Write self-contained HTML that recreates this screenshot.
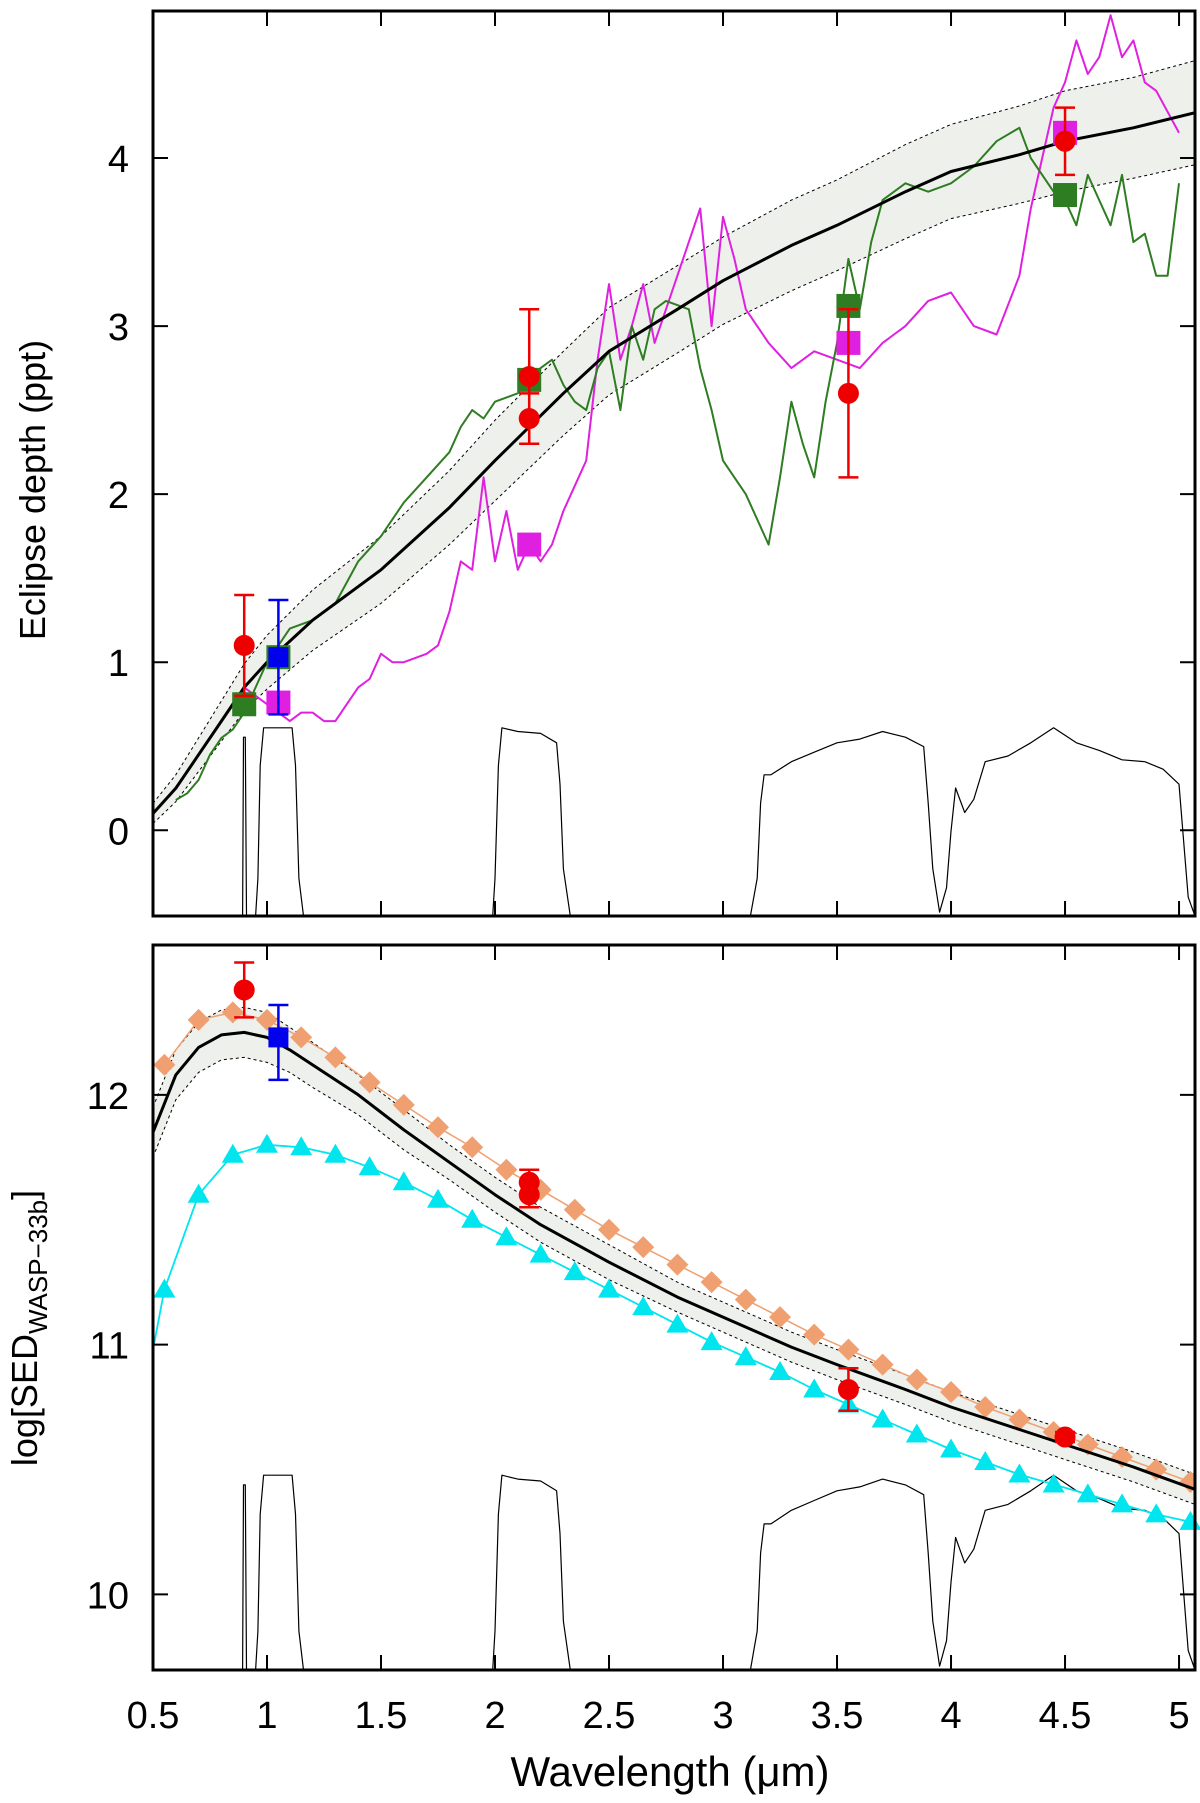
<!DOCTYPE html>
<html><head><meta charset="utf-8"><style>
html,body{margin:0;padding:0;background:#fff;}
svg{display:block;font-family:"Liberation Sans",sans-serif;}
</style></head><body>
<svg id="chart" width="1200" height="1803" viewBox="0 0 1200 1803" xmlns="http://www.w3.org/2000/svg">
<g id="top"></g>
<g id="bot"></g>
<text x="0" y="0" font-size="36" text-anchor="middle" transform="translate(45,490) rotate(-90)">Eclipse depth (ppt)</text>
<text x="0" y="0" font-size="36" text-anchor="middle" transform="translate(37,1328) rotate(-90)">log[SED<tspan font-size="26" dy="10">WASP−33b</tspan><tspan dy="-10">]</tspan></text>
<text x="670" y="1786" font-size="42" text-anchor="middle">Wavelength (μm)</text>
</svg>
<script>
// ---- data ----
const xTicks = [0.5,1,1.5,2,2.5,3,3.5,4,4.5,5];
const xTickLabels = ["0.5","1","1.5","2","2.5","3","3.5","4","4.5","5"];
const topYTicks = [0,1,2,3,4];
const botYTicks = [10,11,12];
const topModelX = [0.5,0.6,0.7,0.8,0.9,1.0,1.2,1.5,1.8,2.0,2.3,2.5,2.8,3.0,3.3,3.5,3.8,4.0,4.3,4.5,4.8,5.07];
const topModelY = [0.1,0.25,0.45,0.65,0.85,1.0,1.25,1.55,1.92,2.2,2.6,2.85,3.1,3.27,3.48,3.6,3.8,3.92,4.02,4.1,4.18,4.27];
const topBandW = [0.06,0.08,0.1,0.12,0.14,0.16,0.18,0.2,0.22,0.24,0.25,0.26,0.26,0.26,0.27,0.27,0.28,0.28,0.29,0.3,0.3,0.31];
const greenX = [0.6,0.65,0.7,0.75,0.8,0.85,0.9,0.95,1.0,1.05,1.1,1.2,1.3,1.4,1.5,1.6,1.7,1.8,1.85,1.9,1.95,2.0,2.1,2.2,2.25,2.3,2.35,2.4,2.45,2.5,2.55,2.6,2.65,2.7,2.75,2.85,2.9,2.95,3.0,3.05,3.1,3.15,3.2,3.25,3.3,3.35,3.4,3.45,3.5,3.55,3.6,3.65,3.7,3.8,3.9,4.0,4.1,4.2,4.3,4.35,4.4,4.45,4.5,4.55,4.6,4.65,4.7,4.75,4.8,4.85,4.9,4.95,5.0];
const greenY = [0.18,0.22,0.3,0.45,0.55,0.6,0.7,0.85,1.0,1.1,1.2,1.25,1.35,1.6,1.75,1.95,2.1,2.25,2.4,2.5,2.45,2.55,2.6,2.75,2.8,2.65,2.55,2.5,2.75,2.85,2.5,3.0,2.8,3.1,3.15,3.1,2.75,2.5,2.2,2.1,2.0,1.85,1.7,2.1,2.55,2.3,2.1,2.55,2.9,3.4,3.1,3.5,3.75,3.85,3.8,3.85,3.95,4.1,4.18,4.0,3.9,3.8,3.75,3.6,3.9,3.75,3.6,3.9,3.5,3.55,3.3,3.3,3.85];
const magX = [0.57,0.65,0.7,0.75,0.8,0.85,0.9,0.95,1.0,1.05,1.1,1.15,1.2,1.25,1.3,1.35,1.4,1.45,1.5,1.55,1.6,1.7,1.75,1.8,1.85,1.9,1.95,2.0,2.05,2.1,2.15,2.2,2.25,2.3,2.35,2.4,2.45,2.5,2.55,2.6,2.65,2.7,2.75,2.8,2.85,2.9,2.95,3.0,3.05,3.1,3.2,3.3,3.4,3.5,3.6,3.7,3.8,3.9,4.0,4.1,4.2,4.3,4.35,4.4,4.45,4.5,4.55,4.6,4.65,4.7,4.75,4.8,4.85,4.9,5.0];
const magY = [0.2,0.35,0.45,0.55,0.65,0.75,0.85,0.8,0.75,0.7,0.65,0.7,0.7,0.65,0.65,0.75,0.85,0.9,1.05,1.0,1.0,1.05,1.1,1.3,1.6,1.55,2.1,1.6,1.9,1.55,1.7,1.6,1.7,1.9,2.05,2.2,2.8,3.25,2.8,3.0,3.25,2.9,3.1,3.3,3.5,3.7,3.0,3.65,3.4,3.1,2.9,2.75,2.85,2.8,2.75,2.9,3.0,3.15,3.2,3.0,2.95,3.3,3.7,4.0,4.3,4.45,4.7,4.5,4.6,4.85,4.6,4.7,4.45,4.4,4.15];
const topRedX = [0.9,2.15,2.15,3.55,4.5];
const topRedY = [1.1,2.7,2.45,2.6,4.1];
const topRedErr = [0.3,0.4,0.15,0.5,0.2];
const topBlueX = [1.05]; const topBlueY = [1.03]; const topBlueErr = [0.34];
const greenSqX = [0.9,1.05,2.15,3.55,4.5];
const greenSqY = [0.75,1.03,2.68,3.12,3.78];
const magSqX = [1.05,2.15,3.55,4.5];
const magSqY = [0.76,1.7,2.9,4.15];
const filtX = [0.5,0.893,0.897,0.905,0.91,0.95,0.96,0.97,0.985,1.11,1.125,1.14,1.16,1.99,2.0,2.015,2.03,2.1,2.2,2.27,2.285,2.3,2.33,3.12,3.15,3.165,3.18,3.21,3.3,3.4,3.5,3.6,3.7,3.8,3.88,3.9,3.92,3.95,3.98,4.0,4.02,4.06,4.1,4.15,4.25,4.35,4.45,4.55,4.65,4.75,4.85,4.93,5.0,5.02,5.04,5.07];
const filtT = [0,0,0.95,0.95,0,0,0.2,0.8,1.0,1.0,0.8,0.2,0,0,0.2,0.8,1.0,0.98,0.97,0.92,0.7,0.25,0,0,0.2,0.6,0.75,0.75,0.82,0.87,0.92,0.94,0.98,0.95,0.9,0.6,0.25,0.02,0.15,0.45,0.68,0.55,0.62,0.82,0.85,0.92,1.0,0.92,0.88,0.83,0.82,0.78,0.7,0.4,0.1,0];
const botModelX = [0.5,0.6,0.7,0.8,0.9,1.0,1.1,1.2,1.4,1.6,1.8,2.0,2.2,2.5,2.8,3.0,3.3,3.5,3.8,4.0,4.3,4.5,4.8,5.07];
const botModelY = [11.85,12.08,12.19,12.24,12.25,12.23,12.18,12.12,12.0,11.86,11.73,11.6,11.48,11.33,11.19,11.11,10.99,10.92,10.82,10.75,10.66,10.6,10.51,10.42];
const botBandW = [0.1,0.1,0.1,0.1,0.1,0.1,0.09,0.09,0.08,0.08,0.07,0.07,0.07,0.07,0.06,0.06,0.06,0.06,0.06,0.06,0.06,0.06,0.06,0.06];
const orangeX = [0.55,0.7,0.85,1.0,1.15,1.3,1.45,1.6,1.75,1.9,2.05,2.2,2.35,2.5,2.65,2.8,2.95,3.1,3.25,3.4,3.55,3.7,3.85,4.0,4.15,4.3,4.45,4.6,4.75,4.9,5.05];
const orangeY = [12.12,12.3,12.33,12.3,12.23,12.15,12.05,11.96,11.87,11.79,11.7,11.62,11.54,11.46,11.39,11.32,11.25,11.18,11.11,11.04,10.98,10.92,10.86,10.81,10.75,10.7,10.65,10.6,10.55,10.5,10.45];
const cyanX = [0.5,0.55,0.7,0.85,1.0,1.15,1.3,1.45,1.6,1.75,1.9,2.05,2.2,2.35,2.5,2.65,2.8,2.95,3.1,3.25,3.4,3.55,3.7,3.85,4.0,4.15,4.3,4.45,4.6,4.75,4.9,5.05];
const cyanY = [10.98,11.22,11.6,11.76,11.8,11.79,11.76,11.71,11.65,11.58,11.5,11.43,11.36,11.29,11.22,11.15,11.08,11.01,10.95,10.89,10.82,10.76,10.7,10.64,10.58,10.53,10.48,10.44,10.4,10.36,10.32,10.29];
const botRedX = [0.9,2.15,2.15,3.55,4.5];
const botRedY = [12.42,11.65,11.6,10.82,10.63];
const botRedErr = [0.11,0.05,0.05,0.085,0.02];
const botBlueX = [1.05]; const botBlueY = [12.23]; const botBlueErrUp = [0.13]; const botBlueErrDn = [0.17];

// ---- layout ----
const NS = "http://www.w3.org/2000/svg";
const L = 153, R = 1195;
const xMin = 0.5, xMax = 5.07;
function X(w){ return L + (w - xMin) / (xMax - xMin) * (R - L); }
const topP = {t:11, b:916, yMin:-0.51, yMax:4.875};
const botP = {t:945, b:1670, yMin:9.697, yMax:12.6};
function Yf(p){ return v => p.b - (v - p.yMin) / (p.yMax - p.yMin) * (p.b - p.t); }
function mk(parent, tag, attrs){ const e = document.createElementNS(NS, tag); for (const k in attrs) e.setAttribute(k, attrs[k]); parent.appendChild(e); return e; }
function pathD(xs, ys, Y){ return xs.map((x,i)=>(i?"L":"M")+X(x).toFixed(1)+","+Y(ys[i]).toFixed(1)).join(""); }

function panel(g, p, clipId){
  const Y = Yf(p);
  const defs = mk(g, "defs", {});
  const cp = mk(defs, "clipPath", {id: clipId});
  mk(cp, "rect", {x:L, y:p.t, width:R-L, height:p.b-p.t});
  return Y;
}
function frame(g, p, Y, yTicks, showXLabels){
  xTicks.forEach((t,i)=>{
    const tk = mk(g, "path", {d:`M${X(t)},${p.b}V${p.b-15}M${X(t)},${p.t}V${p.t+15}`, stroke:"#000", "stroke-width":2});
    
    
    if (showXLabels){
      const tx = mk(g, "text", {x:X(t), y:1728, "font-size":38, "text-anchor":"middle"});
      tx.textContent = xTickLabels[i];
      
      
    }
  });
  yTicks.forEach(t=>{
    const tk = mk(g, "path", {d:`M${L},${Y(t)}H${L+15}M${R},${Y(t)}H${R-15}`, stroke:"#000", "stroke-width":2});
    
    
    const tx = mk(g, "text", {x:L-24, y:Y(t)+14, "font-size":38, "text-anchor":"end"});
    tx.textContent = String(t);
    
    
  });
  const fr = mk(g, "rect", {x:L, y:p.t, width:R-L, height:p.b-p.t, fill:"none", stroke:"#000", "stroke-width":3});
  
  
}
function band(g, xs, ys, ws, Y, clip){
  const up = xs.map((x,i)=>X(x).toFixed(1)+","+Y(ys[i]+ws[i]).toFixed(1));
  const dn = xs.map((x,i)=>X(x).toFixed(1)+","+Y(ys[i]-ws[i]).toFixed(1)).reverse();
  const b = mk(g, "path", {d:"M"+up.join("L")+"L"+dn.join("L")+"Z", fill:"#eef0ec", "clip-path":`url(#${clip})`});
  
  
  const u = mk(g, "path", {d:pathD(xs, ys.map((v,i)=>v+ws[i]), Y), fill:"none", stroke:"#000", "stroke-width":1, "stroke-dasharray":"3,3", "clip-path":`url(#${clip})`});
  
  
  const d = mk(g, "path", {d:pathD(xs, ys.map((v,i)=>v-ws[i]), Y), fill:"none", stroke:"#000", "stroke-width":1, "stroke-dasharray":"3,3", "clip-path":`url(#${clip})`});
  
  
}
function filters(g, p, Y, clip, scale){
  const base = p.yMin;
  const ys = filtT.map(t => base + t*scale);
  const f = mk(g, "path", {d:pathD(filtX, ys, Y), fill:"none", stroke:"#000", "stroke-width":1.2, "stroke-linejoin":"round", "clip-path":`url(#${clip})`});
  
  
}
function line(g, xs, ys, Y, color, w, name, clip){
  const l = mk(g, "path", {d:pathD(xs, ys, Y), fill:"none", stroke:color, "stroke-width":w, "stroke-linejoin":"round", "clip-path":`url(#${clip})`});
  
  
}
function errbar(g, x, y, up, dn, Y, color){
  const cx = X(x);
  const e = mk(g, "path", {d:`M${cx},${Y(y+up)}V${Y(y-dn)}M${cx-10},${Y(y+up)}H${cx+10}M${cx-10},${Y(y-dn)}H${cx+10}`, stroke:color, "stroke-width":2.5, fill:"none"});
  
  
}
function circle(g, x, y, Y, color){
  const c = mk(g, "circle", {cx:X(x), cy:Y(y), r:10.5, fill:color});
  
  
}
function square(g, x, y, Y, color, name){
  const s = mk(g, "rect", {x:X(x)-12, y:Y(y)-12, width:24, height:24, fill:color});
  
  
}

// ---- top panel ----
const gt = document.getElementById("top");
const Yt = panel(gt, topP, "clipTop");
band(gt, topModelX, topModelY, topBandW, Yt, "clipTop");
filters(gt, topP, Yt, "clipTop", 1.12);
line(gt, magX, magY, Yt, "#e020e0", 2, "magenta-model-spectrum", "clipTop");
line(gt, greenX, greenY, Yt, "#2e7d22", 2, "green-model-spectrum", "clipTop");
line(gt, topModelX, topModelY, Yt, "#000", 3, "blackbody-model-line", "clipTop");
magSqX.forEach((x,i)=>square(gt, x, magSqY[i], Yt, "#e020e0", "magenta-square"));
greenSqX.forEach((x,i)=>square(gt, x, greenSqY[i], Yt, "#2e7d22", "green-square"));
topBlueX.forEach((x,i)=>{ errbar(gt, x, topBlueY[i], topBlueErr[i], topBlueErr[i], Yt, "#0000ee"); });
topRedX.forEach((x,i)=>{ errbar(gt, x, topRedY[i], topRedErr[i], topRedErr[i], Yt, "#ee0000"); circle(gt, x, topRedY[i], Yt, "#ee0000"); });
topBlueX.forEach((x,i)=>{ const s = mk(gt, "rect", {x:X(x)-10, y:Yt(topBlueY[i])-10, width:20, height:20, fill:"#0000ee"});
  
   });
frame(gt, topP, Yt, topYTicks, false);

// ---- bottom panel ----
const gb = document.getElementById("bot");
const Yb = panel(gb, botP, "clipBot");
band(gb, botModelX, botModelY, botBandW, Yb, "clipBot");
filters(gb, botP, Yb, "clipBot", 0.78);
line(gb, cyanX, cyanY, Yb, "#00e5ee", 1.8, "cyan-model-line", "clipBot");
cyanX.forEach((x,i)=>{ if (i===0) return; const cx = X(x), cy = Yb(cyanY[i]);
  const t = mk(gb, "path", {d:`M${cx},${cy-11}L${cx+11},${cy+8}L${cx-11},${cy+8}Z`, fill:"#00e5ee"});
  
   });
line(gb, orangeX, orangeY, Yb, "#f0a070", 1.5, "orange-model-line", "clipBot");
orangeX.forEach((x,i)=>{ const cx = X(x), cy = Yb(orangeY[i]);
  const d = mk(gb, "path", {d:`M${cx},${cy-11}L${cx+11},${cy}L${cx},${cy+11}L${cx-11},${cy}Z`, fill:"#f0a070", "clip-path":"url(#clipBot)"});
  
   });
line(gb, botModelX, botModelY, Yb, "#000", 3, "blackbody-model-line", "clipBot");
botBlueX.forEach((x,i)=>{ errbar(gb, x, botBlueY[i], botBlueErrUp[i], botBlueErrDn[i], Yb, "#0000ee");
  const s = mk(gb, "rect", {x:X(x)-10, y:Yb(botBlueY[i])-10, width:20, height:20, fill:"#0000ee"});
  
   });
botRedX.forEach((x,i)=>{ errbar(gb, x, botRedY[i], botRedErr[i], botRedErr[i], Yb, "#ee0000"); circle(gb, x, botRedY[i], Yb, "#ee0000"); });
frame(gb, botP, Yb, botYTicks, true);
</script>
</body></html>
